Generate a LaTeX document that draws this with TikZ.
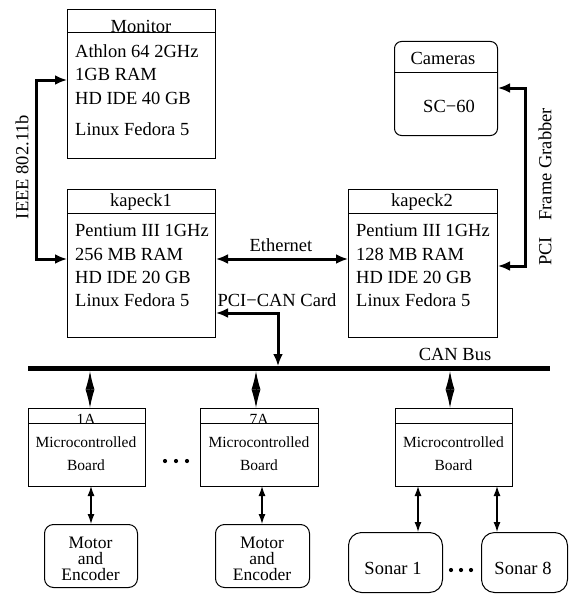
\documentclass[tikz,border=0pt]{standalone}
\usepackage{fontspec}
\setmainfont{Liberation Serif}
\usetikzlibrary{arrows.meta}
\begin{document}
\begin{tikzpicture}[x=1pt,y=-1pt,
  box/.style={draw, line width=1pt, inner sep=0pt, anchor=north west},
  rbox/.style={box, rounded corners=#1},
  big/.style={font=\fontsize{18.5}{22}\selectfont, inner sep=0pt},
  small/.style={font=\fontsize{15.5}{18}\selectfont, inner sep=0pt},
  dev/.style={font=\fontsize{17.5}{16}\selectfont, inner sep=0pt, align=center},
  lt/.style={big, anchor=base west},
  hd/.style={big, anchor=base},
  link/.style={line width=3pt, {Latex[length=12pt,width=10pt]}-{Latex[length=12pt,width=10pt]}},
  dia/.style={line width=1pt, {Latex[length=18.5pt,width=9pt]}-{Latex[length=18.5pt,width=9pt]}},
  thin/.style={line width=1.3pt, {Latex[length=10pt,width=7pt]}-{Latex[length=10pt,width=7pt]}},
  dotc/.style={circle, fill, inner sep=0pt, minimum size=4.2pt}
]
\useasboundingbox (0,0) rectangle (569,594);

% Monitor
\node[box, minimum width=148pt, minimum height=149pt] (mon) at (67,9) {};
\draw[line width=1pt] (67,33) -- (215,33);
\node[hd] (monh) at (141,33) {Monitor};
\node[lt] (m1) at (75,57) {Athlon 64 2GHz};
\node[lt] (m2) at (75,81) {1GB RAM};
\node[lt] (m3) at (75,104) {HD IDE 40 GB};
\node[lt] (m4) at (75,135) {Linux Fedora 5};

% Cameras
\node[rbox=7pt, minimum width=103pt, minimum height=94pt] (cam) at (394,41) {};
\draw[line width=1pt] (394,72) -- (497,72);
\node[hd] (camh) at (443,65) {Cameras};
\node[hd] (sc) at (449,112) {SC\char"2212 60};

% kapeck1
\node[box, minimum width=148pt, minimum height=148pt] (k1) at (67,189) {};
\draw[line width=1pt] (67,213) -- (215,213);
\node[hd] (k1h) at (141,206) {kapeck1};
\node[lt] (a1) at (75,236) {Pentium III 1GHz};
\node[lt] (a2) at (75,260) {256 MB RAM};
\node[lt] (a3) at (75,283) {HD IDE 20 GB};
\node[lt] (a4) at (75,306) {Linux Fedora 5};

% kapeck2
\node[box, minimum width=149pt, minimum height=148pt] (k2) at (348,189) {};
\draw[line width=1pt] (348,213) -- (497,213);
\node[hd] (k2h) at (422,206) {kapeck2};
\node[lt] (b1) at (356,236) {Pentium III 1GHz};
\node[lt] (b2) at (356,260) {128 MB RAM};
\node[lt] (b3) at (356,283) {HD IDE 20 GB};
\node[lt] (b4) at (356,306) {Linux Fedora 5};

% links between computers
\coordinate (i1) at (36,80);
\coordinate (i2) at (36,259);
\draw[link] (mon.west |- i1) -- (i1) -- (i2) -- (k1.west |- i2);
\node[big, rotate=90] (ieee) at (22,167) {IEEE 802.11b};

\coordinate (f1) at (525,88);
\coordinate (f2) at (525,266);
\draw[link] (cam.east |- f1) -- (f1) -- (f2) -- (k2.east |- f2);
\node[big, rotate=90] (fg) at (545,187) {PCI\hspace{0.9em}Frame Grabber};

\coordinate (e1) at (0,259);
\draw[link] (k1.east |- e1) -- (k2.west |- e1);
\node[hd] (eth) at (281,251) {Ethernet};

% CAN bus
\coordinate (busL) at (28,368.5);
\coordinate (busR) at (550,368.5);
\draw[line width=5pt] (busL) -- (busR);
\node[hd] (canl) at (455,360) {CAN Bus};

\coordinate (p1) at (278,313);
\draw[link] (k1.east |- p1) -- (p1) -- (278,366);
\node[hd] (pci) at (277,306) {PCI\char"2212 CAN Card};

% boards
\node[box, minimum width=117pt, minimum height=78pt] (bd1) at (28,408) {};
\draw[line width=1pt] (28,423) -- (145,423);
\node[small, anchor=base] (bd1h) at (86,424) {1A};
\node[small, anchor=base] (bd1a) at (86,447) {Microcontrolled};
\node[small, anchor=base] (bd1b) at (86,470) {Board};

\node[box, minimum width=118pt, minimum height=78pt] (bd2) at (200,408) {};
\draw[line width=1pt] (200,423) -- (318,423);
\node[small, anchor=base] (bd2h) at (259,424) {7A};
\node[small, anchor=base] (bd2a) at (259,447) {Microcontrolled};
\node[small, anchor=base] (bd2b) at (259,470) {Board};

\node[box, minimum width=117pt, minimum height=78pt] (bd3) at (395,408) {};
\draw[line width=1pt] (395,423) -- (512,423);
\node[small, anchor=base] (bd3a) at (453.5,447) {Microcontrolled};
\node[small, anchor=base] (bd3b) at (453.5,470) {Board};

\draw[dia] (90,371) -- (90,408);
\draw[dia] (256,371) -- (256,408);
\draw[dia] (450,371) -- (450,408);

\node[dotc] (d1) at (165,461) {};
\node[dotc] (d2) at (176,461) {};
\node[dotc] (d3) at (187,461) {};

% devices
\node[rbox=9pt, minimum width=93pt, minimum height=63pt] (mot1) at (44,524) {};
\node[dev] (mot1t) at (90.5,559) {Motor\\and\\Encoder};
\node[rbox=9pt, minimum width=94pt, minimum height=63pt] (mot2) at (215,524) {};
\node[dev] (mot2t) at (262,559) {Motor\\and\\Encoder};

\node[rbox=13pt, minimum width=94pt, minimum height=60pt] (son1) at (348,532) {};
\node[hd] (son1t) at (393,574) {Sonar 1};
\node[rbox=13pt, minimum width=86pt, minimum height=60pt] (son8) at (481,532) {};
\node[hd] (son8t) at (523,574) {Sonar 8};

\node[dotc] (e1d) at (451,570) {};
\node[dotc] (e2d) at (461,570) {};
\node[dotc] (e3d) at (471,570) {};

\draw[thin] (91,486) -- (91,524);
\draw[thin] (262,486) -- (262,524);
\draw[thin] (418,486) -- (418,532);
\draw[thin] (497,486) -- (497,532);
\end{tikzpicture}
\end{document}
